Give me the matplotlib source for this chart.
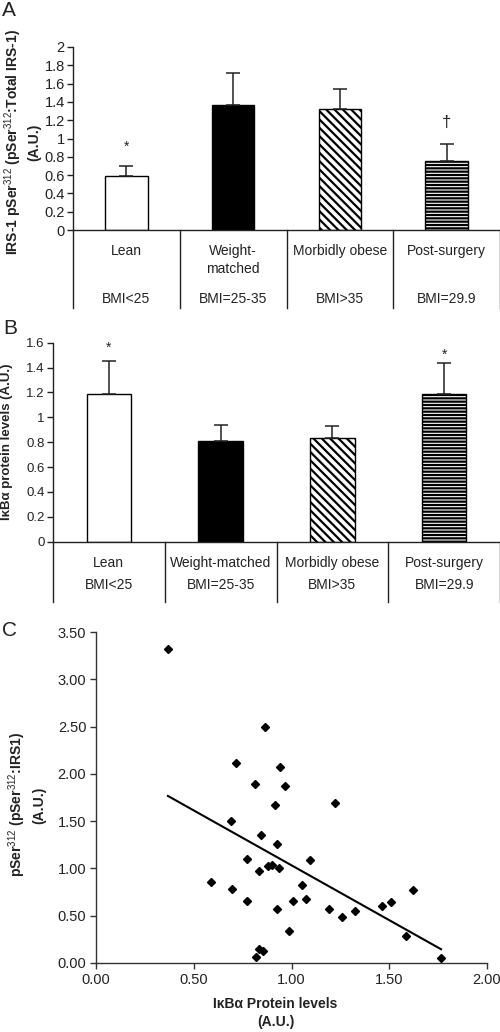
import numpy as np
import matplotlib
matplotlib.use("Agg")
import matplotlib.pyplot as plt

plt.rcParams['font.family'] = ['Liberation Sans', 'DejaVu Sans']
plt.rcParams['mathtext.fontset'] = 'custom'
plt.rcParams['mathtext.rm'] = 'Liberation Sans'
plt.rcParams['mathtext.it'] = 'Liberation Sans:italic'
plt.rcParams['mathtext.bf'] = 'Liberation Sans:bold'
plt.rcParams['hatch.linewidth'] = 1.6

# ---------------- data ----------------
cats_a = ['Lean', 'Weight-\nmatched', 'Morbidly obese', 'Post-surgery']
cats_b = ['Lean', 'Weight-matched', 'Morbidly obese', 'Post-surgery']
bmi = ['BMI<25', 'BMI=25-35', 'BMI>35', 'BMI=29.9']

irs_mean = [0.59, 1.37, 1.32, 0.75]
irs_err = [0.11, 0.35, 0.22, 0.19]
irs_marks = ['*', '', '', '\u2020']
irs_mark_y = [0.91, None, None, 1.18]

ikb_mean = [1.19, 0.81, 0.83, 1.19]
ikb_err = [0.26, 0.13, 0.10, 0.25]
ikb_marks = ['*', '', '', '*']
ikb_mark_y = [1.56, None, None, 1.50]

yticks_a = [0, 0.2, 0.4, 0.6, 0.8, 1, 1.2, 1.4, 1.6, 1.8, 2]
ytick_labels_a = ['0', '0.2', '0.4', '0.6', '0.8', '1', '1.2', '1.4', '1.6', '1.8', '2']
yticks_b = [0, 0.2, 0.4, 0.6, 0.8, 1, 1.2, 1.4, 1.6]
ytick_labels_b = ['0', '0.2', '0.4', '0.6', '0.8', '1', '1.2', '1.4', '1.6']

scatter_x = [0.368, 0.716, 0.69, 0.588, 0.697, 0.774, 0.774, 0.863, 0.941, 0.813,
             0.965, 0.916, 1.224, 0.844, 0.924, 0.832, 0.881, 0.899, 0.938, 1.095,
             1.052, 1.074, 1.009, 0.924, 0.986, 1.194, 1.26, 1.325, 1.465, 1.507,
             1.621, 1.587, 1.765, 0.834, 0.856, 0.818]
scatter_y = [3.32, 2.12, 1.50, 0.86, 0.78, 1.10, 0.66, 2.50, 2.075, 1.895,
             1.874, 1.67, 1.695, 1.353, 1.255, 0.976, 1.03, 1.036, 1.00, 1.089,
             0.83, 0.68, 0.66, 0.571, 0.335, 0.571, 0.483, 0.553, 0.606, 0.645,
             0.768, 0.285, 0.056, 0.148, 0.124, 0.067]
xticks_c = [0.0, 0.5, 1.0, 1.5, 2.0]
yticks_c = [0.0, 0.5, 1.0, 1.5, 2.0, 2.5, 3.0, 3.5]

# ---------------- styles ----------------
faces = ['white', 'black', 'white', 'white']
hatches = [None, None, '\\\\\\\\', '-----']
W, H = 500, 1032
TXT = '#222222'

fig = plt.figure(figsize=(5, 10.32), dpi=100)


def px_axes(left, top, right, bottom):
    return fig.add_axes([left / W, 1 - bottom / H, (right - left) / W, (bottom - top) / H])


def bar_panel(ax, means, errs, cats, marks, mark_y, yticks, ylabels, ymax,
              tick_fs, row1, row1_va, row2, tbl_bottom, cat_fs, lsp):
    x = np.arange(len(means))
    ax.bar(x, means, width=0.4, color=faces, edgecolor='black', linewidth=1.0,
           hatch=hatches, zorder=2)
    ax.errorbar(x, means, yerr=[np.zeros(len(errs)), errs], fmt='none',
                ecolor='#222222', elinewidth=1.1, capsize=5, capthick=1.1, zorder=3)
    for xi, m, my in zip(x, marks, mark_y):
        if m:
            fs = 12 if m == '\u2020' else 10
            ax.text(xi, my, m, ha='center', va='center', fontsize=fs, color=TXT)
    ax.set_xlim(-0.5, len(means) - 0.5)
    ax.set_ylim(0, ymax)
    ax.set_yticks(yticks)
    ax.set_yticklabels(ylabels, fontsize=tick_fs, color=TXT)
    ax.set_xticks([])
    for s in ['top', 'right']:
        ax.spines[s].set_visible(False)
    for s in ['left', 'bottom']:
        ax.spines[s].set_linewidth(1.0)
        ax.spines[s].set_color('#222222')
    ax.tick_params(axis='y', direction='out', length=4, width=1.0, color='#222222', pad=2)
    tr = ax.get_xaxis_transform()
    for b in np.arange(len(means) + 1) - 0.5:
        ax.plot([b, b], [0, tbl_bottom], transform=tr, color='#222222', lw=1.0,
                clip_on=False)
    for xi, c, bm in zip(x, cats, bmi):
        ax.text(xi, row1, c, transform=tr, ha='center', va=row1_va,
                fontsize=cat_fs, color=TXT, linespacing=lsp)
        ax.text(xi, row2, bm, transform=tr, ha='center', va='baseline',
                fontsize=cat_fs, color=TXT)


# Panel A
axA = px_axes(73, 47, 500, 230)
bar_panel(axA, irs_mean, irs_err, cats_a, irs_marks, irs_mark_y, yticks_a,
          ytick_labels_a, 2.0, 10.5, -0.074, 'top', -0.40, -0.426, 10, 1.45)

# Panel B
axB = px_axes(53, 342.7, 500, 541.7)
bar_panel(axB, ikb_mean, ikb_err, cats_b, ikb_marks, ikb_mark_y, yticks_b,
          ytick_labels_b, 1.6, 9.5, -0.127, 'baseline', -0.236, -0.303, 10, 1.2)

# Panel C
axC = px_axes(96, 632, 487, 963)
axC.plot(scatter_x, scatter_y, linestyle='none', marker='D', markersize=3.6,
         color='black', zorder=3)
coef = np.polyfit(scatter_x, scatter_y, 1)
fx = np.array([min(scatter_x), max(scatter_x)])
axC.plot(fx, np.polyval(coef, fx), color='black', lw=1.5, zorder=2)
axC.set_xlim(0, 2)
axC.set_ylim(0, 3.5)
axC.set_xticks(xticks_c)
axC.set_xticklabels([f'{v:.2f}' for v in xticks_c], fontsize=10.5, color=TXT)
axC.set_yticks(yticks_c)
axC.set_yticklabels([f'{v:.2f}' for v in yticks_c], fontsize=10.5, color=TXT)
for s in ['top', 'right']:
    axC.spines[s].set_visible(False)
for s in ['left', 'bottom']:
    axC.spines[s].set_linewidth(1.0)
    axC.spines[s].set_color('#333333')
axC.tick_params(direction='out', length=4, width=1.0, color='#333333', pad=3)

# Labels
fig.text(2 / W, 1 - 10 / H, 'A', fontsize=15, ha='left', va='center', color=TXT)
fig.text(3 / W, 1 - 328 / H, 'B', fontsize=15, ha='left', va='center', color=TXT)
fig.text(2 / W, 1 - 631 / H, 'C', fontsize=15, ha='left', va='center', color=TXT)

fig.text(21.5 / W, 1 - 142 / H,
         r'IRS-1 pSer$^{312}$ (pSer$^{312}$:Total IRS-1)' + '\n(A.U.)',
         rotation=90, ha='center', va='center', multialignment='center',
         fontsize=10, fontweight='bold', color=TXT, linespacing=1.3)
fig.text(7 / W, 1 - 442 / H, 'I\u03baB\u03b1 protein levels (A.U.)',
         rotation=90, ha='center', va='center', fontsize=9.5,
         fontweight='bold', color=TXT)
fig.text(26.5 / W, 1 - 805 / H,
         r'pSer$^{312}$ (pSer$^{312}$:IRS1)' + '\n(A.U.)',
         rotation=90, ha='center', va='center', multialignment='center',
         fontsize=10, fontweight='bold', color=TXT, linespacing=1.4)
fig.text(275.5 / W, 1 - 1013 / H, 'I\u03baB\u03b1 Protein levels\n(A.U.)',
         ha='center', va='center', multialignment='center', fontsize=10,
         fontweight='bold', color=TXT, linespacing=1.3)

fig.savefig('out.png', dpi=100)
